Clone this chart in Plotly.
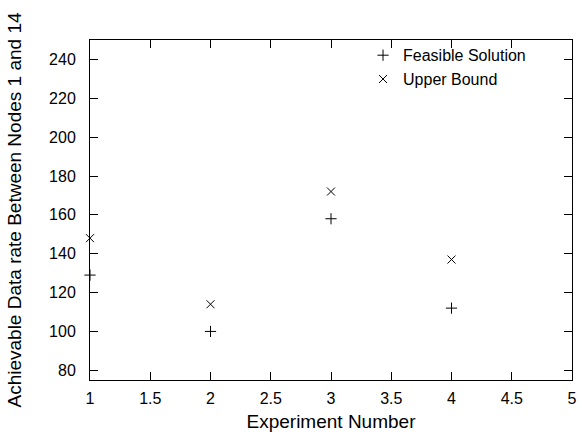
import plotly.graph_objects as go

experiments = [1, 2, 3, 4]
feasible = [129, 100, 158, 112]
upper = [148, 114, 172, 137]

x_ticks = [1, 1.5, 2, 2.5, 3, 3.5, 4, 4.5, 5]
y_ticks = [80, 100, 120, 140, 160, 180, 200, 220, 240]

fig = go.Figure()
fig.add_trace(go.Scatter(x=experiments, y=feasible, mode="markers", name="Feasible Solution",
                         marker=dict(symbol="cross-thin", size=8, line=dict(color="black", width=1), color="black"),
                         cliponaxis=False))
fig.add_trace(go.Scatter(x=experiments, y=upper, mode="markers", name="Upper Bound",
                         marker=dict(symbol="x-thin", size=8, line=dict(color="black", width=1), color="black"),
                         cliponaxis=False))

axis_common = dict(showgrid=False, zeroline=False, showline=True, linecolor="black", linewidth=1,
                   mirror="ticks", ticks="inside", ticklen=8, tickcolor="black", automargin=False,
                   tickfont=dict(size=16, color="black"))

fig.update_layout(
    width=582, height=442,
    margin=dict(l=90, r=10, t=40, b=62),
    plot_bgcolor="white", paper_bgcolor="white",
    font=dict(family="Liberation Sans, Arial, sans-serif", size=16, color="black"),
    xaxis=dict(range=[1, 5], tickvals=x_ticks, ticktext=[f"{v:g}" for v in x_ticks],
               ticklabelstandoff=4,
               title=dict(text="Experiment Number", standoff=8), **axis_common),
    yaxis=dict(range=[75, 250], tickvals=y_ticks, ticklabelstandoff=10,
               title=dict(text="Achievable Data rate Between Nodes 1 and 14", standoff=22), **axis_common),
    legend=dict(x=0.915, y=1.005, xanchor="right", yanchor="top", bgcolor="rgba(0,0,0,0)",
                font=dict(size=16), tracegroupgap=0, itemwidth=30),
    showlegend=True,
)

fig.write_html("out.html", config={"displayModeBar": False},
               post_script="document.body.style.margin='0';document.body.style.padding='0';")
